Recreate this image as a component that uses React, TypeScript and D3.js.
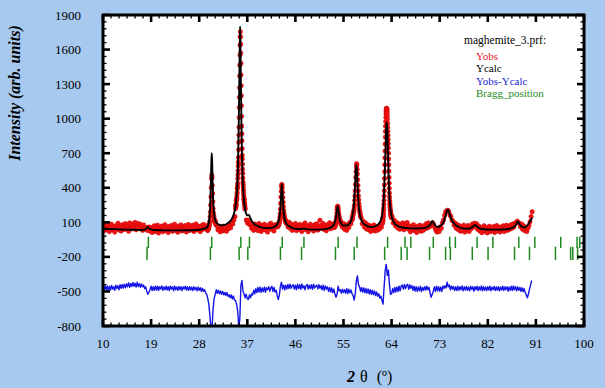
import React from 'react';
import * as d3 from 'd3';

const WIDTH = 605;
const HEIGHT = 388;
const PLOT = { left: 103, right: 584, top: 15, bottom: 326 };

const X_DOMAIN: [number, number] = [10, 100];
const Y_DOMAIN: [number, number] = [-800, 1900];
const xTickValues = [10, 19, 28, 37, 46, 55, 64, 73, 82, 91, 100];
const yTickValues = [-800, -500, -200, 100, 400, 700, 1000, 1300, 1600, 1900];
const X_MINOR_STEP = 1.5;
const Y_MINOR_STEP = 60;

const legendTitle = 'maghemite_3.prf:';
const legendItems = [
  { label: 'Yobs', color: '#e8141c' },
  { label: 'Ycalc', color: '#000000' },
  { label: 'Yobs-Ycalc', color: '#1c1ccc' },
  { label: 'Bragg_position', color: '#1e8a1e' },
];

// ---- Yobs: observed intensities, in runs (start 2θ, step, values) ----
const obsBgA = [
  52, 88, 30, 65, 41, 77, 20, 58, 84, 36,
  61, 15, 70, 49, 92, 33, 66, 25, 80, 54,
  38, 89, 47, 71, 22, 95, 60, 43, 85, 57,
  100, 35, 74, 90, 48, 82, 63, 30, 78, 52,
  40, 55, 28, 60, 24, 55, 12, 48, 70, 20,
  44, 76, 8, 52, 31, 68, 18, 45, 80, 27,
  59, 11, 64, 37, 73, 22, 50, 84, 30, 57,
  14, 69, 42, 78, 25, 61, 34, 72, 16, 53,
  81, 29, 63, 40, 75, 21, 58, 86, 33, 66,
  45, 19, 70, 38, 82, 47, 62, 71,
];
const obsPeak30 = [
  35, 52, 28, 47, 40, 58, 50, 72,
  70, 95, 110, 150, 190, 250, 320, 400,
  480, 510, 495, 420, 350, 280, 220, 185,
  160, 150, 128, 122, 105, 112, 95, 104,
  82,
];
const obsBgB = [70, 35, 62, 18, 48, 25, 66, 30, 55, 22, 70, 45, 80, 52, 95, 85, 120, 150];
const obsPeak36 = [
  219, 245, 234, 240, 255, 262, 290, 294,
  299, 305, 322, 345, 361, 392, 400, 416,
  439, 480, 514, 548, 588, 622, 663, 730,
  795, 858, 926, 1010, 1097, 1185, 1268, 1370,
  1463, 1552, 1638, 1710, 1755, 1712, 1648, 1570,
  1482, 1380, 1287, 1200, 1112, 1020, 936, 870,
  809, 740, 683, 650, 605, 562, 527, 485,
  449, 430, 407, 383, 364, 340, 322, 298,
  300, 296, 278, 270, 255, 250, 234, 215,
  221,
];
const obsBgC = [
  120, 95, 118, 80, 90, 48, 62, 30, 85, 42,
  70, 28, 90, 55, 20, 72, 40, 84, 33, 60,
  15, 78, 47, 92, 38, 66, 25, 80, 58, 74,
];
const obsPeak43 = [
  62, 85, 70, 88, 80, 95, 100, 118,
  145, 175, 215, 265, 320, 370, 410, 428,
  425, 400, 360, 315, 275, 238, 205, 180,
  160, 148, 132, 125, 112, 118, 98, 104,
  90,
];
const obsBgD = [
  95, 60, 102, 48, 85, 30, 74, 52, 90, 28,
  66, 40, 82, 55, 20, 77, 60, 95, 35, 70,
  18, 58, 84, 42, 66, 25, 79, 50, 88, 32,
  61, 118, 73, 46, 90, 38, 68, 27, 80, 55,
  96, 44, 75, 58, 88,
];
const obsPeak54 = [
  55, 80, 62, 90, 75, 98, 105, 125,
  150, 180, 210, 232, 240, 236, 220, 198,
  178, 160, 145, 130, 122, 108, 115, 95,
  102, 80, 92,
];
const obsBgE = [58, 90, 40, 75, 30, 82, 55, 100, 88];
const obsPeak57 = [
  120, 140, 135, 160, 170, 182, 195, 205,
  225, 250, 290, 330, 375, 430, 490, 540,
  580, 610, 598, 560, 520, 470, 420, 375,
  330, 295, 262, 235, 210, 190, 180, 165,
  150,
];
const obsBgF = [140, 88, 110, 60, 95, 42, 80, 35, 72, 20, 65, 38, 78, 25, 55, 30, 62, 40, 70, 58];
const obsPeak63 = [
  90, 110, 102, 125, 118, 140, 150, 168,
  180, 205, 225, 255, 290, 330, 375, 425,
  480, 540, 600, 660, 720, 780, 840, 890,
  935, 975, 1010, 1040, 1062, 1075, 1085, 1088,
  1090, 1086, 1080, 1068, 1050, 1025, 995, 960,
  925, 890, 855, 820, 785, 745, 700, 650,
  600, 545, 490, 440, 395, 355, 320, 290,
  265, 245, 228, 212, 200, 190, 178, 172,
  160, 158, 150, 148, 140,
];
const obsBgG = [
  150, 95, 118, 70, 100, 52, 88, 40, 84, 50,
  95, 35, 78, 60, 98, 42, 70, 18, 62, 35,
  80, 28, 55, 12, 66, 40, 75, 22, 58, 30,
  72, 45, 88, 50, 95, 62, 70, 80, 95, 80,
  52, 30, 15, 42, 20, 60, 48, 95, 120, 160,
  190, 200, 205, 195, 165, 150, 118, 110, 75, 92,
  48, 80, 35, 70, 22, 58, 30, 76, 15, 52,
  38, 72, 20, 60, 45, 85, 58, 92, 70, 88,
  40, 68, 25, 55, 10, 48, 70, 22, 56, 8,
  44, 66, 18, 50, 30, 64, 12, 47, 72, 25,
  55, 15, 60, 38, 70, 20, 52, 75, 30, 62,
  40, 78, 48, 85, 60, 90, 98, 110, 100, 90,
  62, 85, 40, 70, 28, 55, 20, 48, 72, 105,
  150, 192,
];
const obsRuns = [
  { start: 10.0, step: 0.2, values: obsBgA },
  { start: 29.5, step: 0.05, values: obsPeak30 },
  { start: 31.3, step: 0.2, values: obsBgB },
  { start: 34.8, step: 0.025, values: obsPeak36 },
  { start: 36.8, step: 0.2, values: obsBgC },
  { start: 42.7, step: 0.05, values: obsPeak43 },
  { start: 44.4, step: 0.2, values: obsBgD },
  { start: 53.3, step: 0.05, values: obsPeak54 },
  { start: 54.8, step: 0.2, values: obsBgE },
  { start: 56.6, step: 0.05, values: obsPeak57 },
  { start: 58.3, step: 0.2, values: obsBgF },
  { start: 62.275, step: 0.025, values: obsPeak63 },
  { start: 64.1, step: 0.2, values: obsBgG },
];

// ---- Ycalc: calculated profile, [2θ, intensity] ----
const calcPoints: [number, number][] = [
  [10.0, 45], [11, 43], [12, 41], [13, 39], [14, 37], [15, 36], [16, 35], [17, 34], [17.8, 36],
  [18.1, 45], [18.35, 60], [18.6, 48], [19.0, 37], [19.6, 33], [20.5, 31], [22, 30], [24, 30],
  [26, 31], [27.5, 34], [28.3, 38], [29.0, 45], [29.4, 55], [29.7, 80], [29.9, 130], [30.0, 190],
  [30.1, 300], [30.2, 470], [30.28, 630], [30.35, 700], [30.42, 630], [30.5, 470], [30.6, 310],
  [30.7, 215], [30.85, 150], [31.0, 118], [31.3, 92], [31.7, 80], [32.2, 75], [32.7, 78],
  [33.2, 88], [33.7, 105], [34.1, 130], [34.5, 175], [34.8, 240], [35.0, 330], [35.15, 450],
  [35.3, 680], [35.4, 950], [35.5, 1300], [35.58, 1620], [35.65, 1800], [35.72, 1640],
  [35.8, 1320], [35.9, 960], [36.0, 700], [36.15, 460], [36.3, 330], [36.5, 240], [36.7, 190],
  [36.9, 165], [37.1, 160], [37.3, 165], [37.5, 145], [37.8, 115], [38.2, 90], [38.8, 70],
  [39.5, 58], [40.5, 50], [41.5, 52], [42.2, 64], [42.7, 90], [43.0, 140], [43.2, 230],
  [43.35, 360], [43.45, 430], [43.55, 380], [43.7, 250], [43.9, 150], [44.2, 100], [44.7, 70],
  [45.5, 50], [46.5, 42], [47.2, 42], [47.5, 47], [47.8, 43], [49, 37], [50.5, 37], [51.8, 43],
  [52.7, 58], [53.2, 80], [53.5, 120], [53.7, 180], [53.9, 240], [54.05, 205], [54.25, 135],
  [54.5, 95], [55.0, 72], [55.6, 72], [56.2, 95], [56.6, 140], [56.9, 230], [57.1, 360],
  [57.25, 510], [57.4, 600], [57.52, 530], [57.65, 400], [57.8, 280], [58.0, 185], [58.3, 125],
  [58.7, 92], [59.3, 72], [60.2, 60], [61.0, 68], [61.6, 88], [62.0, 120], [62.3, 180],
  [62.55, 320], [62.75, 560], [62.9, 800], [63.0, 930], [63.1, 970], [63.2, 900], [63.32, 700],
  [63.45, 480], [63.6, 320], [63.8, 210], [64.1, 135], [64.5, 95], [65.2, 68], [66.0, 55],
  [67.0, 50], [68.5, 46], [70.0, 50], [70.8, 62], [71.3, 85], [71.55, 108], [71.65, 112],
  [71.8, 98], [72.1, 75], [72.6, 60], [73.2, 72], [73.7, 100], [74.1, 155], [74.35, 200],
  [74.55, 210], [74.75, 190], [75.0, 150], [75.35, 112], [75.8, 85], [76.4, 64], [77.2, 48],
  [78.3, 44], [79.0, 55], [79.4, 70], [79.65, 78], [79.9, 68], [80.4, 50], [81.2, 40],
  [82.5, 37], [84.0, 37], [85.5, 40], [86.6, 52], [87.2, 75], [87.5, 98], [87.65, 105],
  [87.85, 92], [88.2, 68], [88.7, 56], [89.2, 63], [89.6, 85], [89.85, 105], [90.0, 118],
  [90.15, 130], [90.3, 140],
];

// ---- Yobs-Ycalc: residual, every 0.2° from 10.0, drawn shifted by DIFF_OFFSET ----
const DIFF_START = 10.0;
const DIFF_STEP = 0.2;
const DIFF_OFFSET = -480;
const diffValues = [
  15, -12, 30, -5, 28, -15, 25, -8, 32, 0,
  22, -10, 35, 5, 30, -5, 38, 8, 40, 10,
  42, 12, 48, 20, 55, 15, 50, 22, 58, 25,
  52, 18, 60, 22, 48, 15, 45, 20, 35, 5,
  20, -20, -45, -25, -5, 25, -12, 22, -10, 25,
  -8, 25, -12, 22, 0, 28, -10, 20, -5, 25,
  -8, 22, -12, 25, 0, 20, -15, 28, -5, 18,
  -10, 24, -5, 22, -12, 20, 2, 25, -8, 20,
  -10, 22, -8, 18, -12, 20, -5, 15, -15, 18,
  -10, 12, -18, 8, -20, -5, -30, -45, -80, -130,
  -230, -340, -340, -170, -80, -45, -5, -35, -10, -40,
  -15, -45, -20, -50, -28, -55, -30, -62, -48, -75,
  -50, -85, -60, -95, -100, -130, -190, -330, -260, 30,
  75, -20, -40, -75, -45, -85, -90, -50, -75, -40,
  -50, -10, -40, 5, -30, 15, -25, 18, -28, 10,
  -22, 20, -28, 12, -5, 22, -18, 10, 25, -20,
  15, -25, -10, -55, -90, -50, 25, 60, 0, 35,
  -5, 35, 0, 40, 5, 42, 8, 30, 38, 0,
  35, -5, 42, 5, 38, -2, 45, 10, 30, -5,
  30, 40, 0, 35, 5, 38, -2, 42, 10, 25,
  35, 2, 38, 8, 30, -5, 35, -10, 28, 0,
  20, -20, 15, -25, 10, -30, 0, -45, -70, -45,
  25, -15, -5, -35, 0, -30, -5, -35, 5, -38,
  0, -32, -8, -40, -55, -95, -40, 70, 115, 40,
  20, -20, 15, -25, 10, -32, 5, -35, 2, -40,
  -5, -45, -10, -48, -15, -55, -25, -62, -40, -78,
  -60, -100, -130, 20, 160, 215, 120, 165, 40, -45,
  -40, 5, -30, 15, -25, 20, -20, 25, -15, 28,
  35, 0, 40, 5, 32, 42, -2, 38, 8, 30,
  -10, 25, -18, 22, -20, 18, -15, 25, -22, 15,
  -10, 22, -8, 25, -5, 15, -35, -70, -45, -20,
  20, -20, 25, -15, 22, -18, 18, -20, 28, 5,
  30, 10, 60, 20, 35, -5, 28, 0, 22, -12,
  20, -12, 25, -10, 22, -5, 28, -15, 20, -8,
  24, -10, 18, -15, 25, -2, 20, -18, 22, -5,
  25, -12, 20, -8, 28, -15, 22, -10, 18, -12,
  22, -8, 25, -15, 18, -5, 24, -12, 20, -10,
  22, -15, 18, -8, 25, -12, 20, -5, 22, -18,
  18, -10, 25, -12, 28, -5, 22, -15, 20, -10,
  15, -18, 12, -22, 5, -30, -50, -75, -45, 0,
  35, 75,
];

// ---- Bragg positions (two rows) ----
const braggUpper = [18.49, 30.35, 35.79, 37.4, 43.53, 47.6, 54.0, 57.52, 63.25, 66.5, 67.6, 71.8,
  74.87, 75.93, 80.0, 82.95, 87.8, 90.8, 95.65, 98.7, 99.2];
const braggLower = [18.24, 30.1, 35.47, 37.1, 43.2, 47.15, 53.5, 57.0, 62.7, 65.8, 66.9, 71.1,
  74.1, 75.0, 79.1, 82.05, 87.0, 89.8, 94.66, 97.5, 97.9, 98.8];
const BRAGG_UPPER_SPAN: [number, number] = [-25, -123];
const BRAGG_LOWER_SPAN: [number, number] = [-112, -227];

const SERIF = '"Liberation Serif", "Times New Roman", serif';

export default function App() {
  const x = d3.scaleLinear().domain(X_DOMAIN).range([PLOT.left, PLOT.right]);
  const y = d3.scaleLinear().domain(Y_DOMAIN).range([PLOT.bottom, PLOT.top]);

  const obsPoints: [number, number][] = obsRuns.flatMap((run) =>
    run.values.map((v, i) => [run.start + i * run.step, v] as [number, number])
  );

  const calcPath =
    d3
      .line<[number, number]>()
      .x((d) => x(d[0]))
      .y((d) => y(d[1]))
      .curve(d3.curveMonotoneX)(calcPoints) || '';

  const diffPath =
    d3
      .line<number>()
      .x((_, i) => x(DIFF_START + i * DIFF_STEP))
      .y((d) => y(DIFF_OFFSET + d))(diffValues) || '';

  const nXMinor = Math.round((X_DOMAIN[1] - X_DOMAIN[0]) / X_MINOR_STEP);
  const xMinor = d3.range(nXMinor + 1).filter((i) => i % 6 !== 0).map((i) => X_DOMAIN[0] + i * X_MINOR_STEP);
  const nYMinor = Math.round((Y_DOMAIN[1] - Y_DOMAIN[0]) / Y_MINOR_STEP);
  const yMinor = d3.range(nYMinor + 1).filter((i) => i % 5 !== 0).map((i) => Y_DOMAIN[0] + i * Y_MINOR_STEP);

  const MAJ = 7;
  const MIN = 3.5;

  return (
    <div style={{ position: 'absolute', left: 0, top: 0 }}>
      <svg width={WIDTH} height={HEIGHT} style={{ display: 'block' }}>
        <defs>
          <clipPath id="plotClip">
            <rect x={PLOT.left} y={PLOT.top} width={PLOT.right - PLOT.left} height={PLOT.bottom - PLOT.top} />
          </clipPath>
        </defs>
        <rect x={0} y={0} width={WIDTH} height={HEIGHT} fill="#a7c9ef" />
        <rect x={PLOT.left} y={PLOT.top} width={PLOT.right - PLOT.left} height={PLOT.bottom - PLOT.top} fill="#ffffff" />

        <g clipPath="url(#plotClip)">
          {obsPoints.map(([t, v], i) => (
            <circle key={i} cx={x(t)} cy={y(v)} r={2.2} fill="#f21212" stroke="#c80000" strokeWidth={0.5} />
          ))}
          <path d={calcPath} fill="none" stroke="#000" strokeWidth={1.9} strokeLinejoin="round" />
          <path d={diffPath} fill="none" stroke="#1414e6" strokeWidth={1.4} strokeLinejoin="round" />
          {braggUpper.map((t, i) => (
            <line key={'bu' + i} x1={x(t)} x2={x(t)} y1={y(BRAGG_UPPER_SPAN[0])} y2={y(BRAGG_UPPER_SPAN[1])}
              stroke="#1e8a1e" strokeWidth={1.5} />
          ))}
          {braggLower.map((t, i) => (
            <line key={'bl' + i} x1={x(t)} x2={x(t)} y1={y(BRAGG_LOWER_SPAN[0])} y2={y(BRAGG_LOWER_SPAN[1])}
              stroke="#1e8a1e" strokeWidth={1.5} />
          ))}
        </g>

        {/* ticks */}
        <g stroke="#000">
          {xTickValues.map((t) => (
            <g key={'xm' + t}>
              <line x1={x(t)} x2={x(t)} y1={PLOT.bottom} y2={PLOT.bottom - MAJ} strokeWidth={2.6} />
              <line x1={x(t)} x2={x(t)} y1={PLOT.top} y2={PLOT.top + MAJ} strokeWidth={2.6} />
            </g>
          ))}
          {xMinor.map((t) => (
            <g key={'xn' + t}>
              <line x1={x(t)} x2={x(t)} y1={PLOT.bottom} y2={PLOT.bottom - MIN} strokeWidth={1.3} />
              <line x1={x(t)} x2={x(t)} y1={PLOT.top} y2={PLOT.top + MIN} strokeWidth={1.3} />
            </g>
          ))}
          {yTickValues.map((t) => (
            <g key={'ym' + t}>
              <line x1={PLOT.left} x2={PLOT.left + MAJ} y1={y(t)} y2={y(t)} strokeWidth={2.6} />
              <line x1={PLOT.right} x2={PLOT.right - MAJ} y1={y(t)} y2={y(t)} strokeWidth={2.6} />
            </g>
          ))}
          {yMinor.map((t) => (
            <g key={'yn' + t}>
              <line x1={PLOT.left} x2={PLOT.left + MIN} y1={y(t)} y2={y(t)} strokeWidth={1.3} />
              <line x1={PLOT.right} x2={PLOT.right - MIN} y1={y(t)} y2={y(t)} strokeWidth={1.3} />
            </g>
          ))}
        </g>
        <rect x={PLOT.left} y={PLOT.top} width={PLOT.right - PLOT.left} height={PLOT.bottom - PLOT.top}
          fill="none" stroke="#000" strokeWidth={3} />

        {/* tick labels */}
        <g fontFamily={SERIF} fontSize={13} fill="#000">
          {xTickValues.map((t) => (
            <text key={'xl' + t} x={x(t)} y={348} textAnchor="middle">{t}</text>
          ))}
          {yTickValues.map((t) => (
            <text key={'yl' + t} x={81} y={y(t) + 4.5} textAnchor="end">{t}</text>
          ))}
        </g>

        {/* axis titles */}
        <text transform="translate(20,93) rotate(-90)" textAnchor="middle" fontFamily={SERIF}
          fontSize={16} fontWeight="bold" fontStyle="italic" fill="#000">
          Intensity (arb. units)
        </text>
        <text x={347} y={382} fontFamily={SERIF} fontSize={16} fill="#000">
          <tspan fontWeight="bold" fontStyle="italic">2</tspan>
          <tspan dx={5}>θ</tspan>
          <tspan dx={9}>(º)</tspan>
        </text>

        {/* legend */}
        <g fontFamily={SERIF} fontSize={11}>
          <text x={464} y={44} fill="#000" fontSize={11.5}>{legendTitle}</text>
          {legendItems.map((it, i) => (
            <text key={it.label} x={476} y={60 + i * 12.3} fill={it.color}>{it.label}</text>
          ))}
        </g>
      </svg>
    </div>
  );
}
